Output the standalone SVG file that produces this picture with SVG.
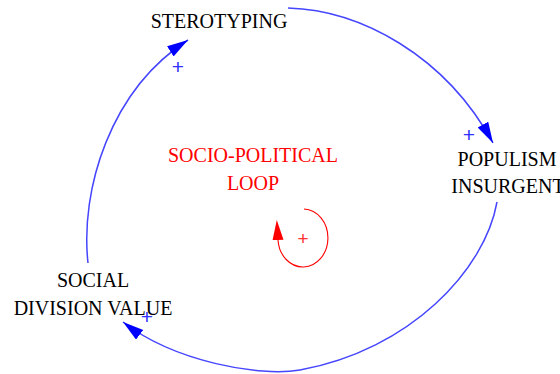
<svg xmlns="http://www.w3.org/2000/svg" width="560" height="374" viewBox="0 0 560 374">
<style>
.lbl{font-family:"Liberation Serif","Times New Roman",serif;font-size:20px;fill:#000;text-anchor:middle}
.red{fill:#ff0000}
.link{fill:none;stroke:#4646ff;stroke-width:1.5}
.pb{font-family:"Liberation Sans",Arial,sans-serif;font-size:21px;fill:#3030ff;text-anchor:middle}
.pr{font-family:"Liberation Sans",Arial,sans-serif;font-size:19px;fill:#ff3030;text-anchor:middle}
</style>
<defs>
<marker id="ab" markerUnits="userSpaceOnUse" markerWidth="23" markerHeight="13" refX="21" refY="6" orient="auto">
<path d="M0,0 L21,6 L0,12 z" fill="#0000ff"/>
</marker>
<marker id="ar" markerUnits="userSpaceOnUse" markerWidth="22" markerHeight="12" refX="0" refY="5.5" orient="auto">
<path d="M0,0 L20,5.5 L0,11 z" fill="#ff0000"/>
</marker>
</defs>
<rect width="560" height="374" fill="#fff"/>
<g id="connectors">
<path class="link" d="M288,8 C360,10 445,55 493,143" marker-end="url(#ab)"/>
<path class="link" d="M497,202 C485,270 410,350 300,370 C260,377 175,362 123,322" marker-end="url(#ab)"/>
<path class="link" d="M88,263 C80,190 110,90 188,40" marker-end="url(#ab)"/>
<text class="pb" x="178" y="74">+</text>
<text class="pb" x="469" y="142">+</text>
<text class="pb" x="147" y="324">+</text>
</g>
<g id="sterotyping"><text class="lbl" x="219" y="28">STEROTYPING</text></g>
<g id="populism"><text class="lbl" x="507" y="166">POPULISM</text><text class="lbl" x="508" y="193">INSURGENT</text></g>
<g id="social"><text class="lbl" x="93" y="287">SOCIAL</text><text class="lbl" x="93" y="315">DIVISION VALUE</text></g>
<g id="loop">
<text class="lbl red" x="253" y="162">SOCIO-POLITICAL</text>
<text class="lbl red" x="253" y="190">LOOP</text>
<path d="M304,209 A25,29 0 1 1 278,240" fill="none" stroke="#ff0000" stroke-width="1.1" marker-end="url(#ar)"/>
<text class="pr" x="303" y="245">+</text>
</g>
</svg>
